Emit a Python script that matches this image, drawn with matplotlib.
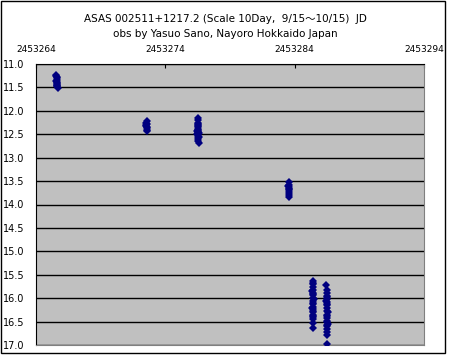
import matplotlib
matplotlib.use("Agg")
import matplotlib.pyplot as plt
from matplotlib.patches import Rectangle

plt.rcParams['font.family'] = ['DejaVu Sans', 'Noto Sans CJK JP']

title1 = "ASAS 002511+1217.2 (Scale 10Day,  9/15～10/15)  JD"
title2 = "obs by Yasuo Sano, Nayoro Hokkaido Japan"

x_ticks = [2453264, 2453274, 2453284, 2453294]
y_ticks = [11.0, 11.5, 12.0, 12.5, 13.0, 13.5, 14.0, 14.5, 15.0, 15.5, 16.0, 16.5, 17.0]

# night 1
jd1 = [2453265.57, 2453265.58, 2453265.59, 2453265.60, 2453265.61, 2453265.62,
       2453265.63, 2453265.64, 2453265.65, 2453265.66, 2453265.67, 2453265.55, 2453265.66]
mag1 = [11.26, 11.23, 11.30, 11.35, 11.28, 11.40, 11.44, 11.38, 11.48, 11.46, 11.51,
        11.36, 11.42]
# night 2
jd2 = [2453272.52, 2453272.54, 2453272.55, 2453272.56, 2453272.57, 2453272.58, 2453272.60,
       2453272.51, 2453272.61]
mag2 = [12.25, 12.30, 12.22, 12.36, 12.28, 12.40, 12.43, 12.33, 12.35]
# night 3
jd3 = [2453276.50, 2453276.51, 2453276.52, 2453276.52, 2453276.53, 2453276.53, 2453276.54,
       2453276.54, 2453276.55, 2453276.55, 2453276.56, 2453276.56, 2453276.57, 2453276.58,
       2453276.52, 2453276.53, 2453276.54, 2453276.55, 2453276.47, 2453276.46, 2453276.60]
mag3 = [12.15, 12.20, 12.26, 12.31, 12.35, 12.40, 12.44, 12.48, 12.52, 12.56, 12.60, 12.64,
        12.68, 12.55, 12.38, 12.29, 12.46, 12.33, 12.42, 12.50, 12.47]
# night 4
jd4 = [2453283.53, 2453283.54, 2453283.55, 2453283.56, 2453283.57, 2453283.58, 2453283.59,
       2453283.60, 2453283.52, 2453283.53]
mag4 = [13.52, 13.58, 13.62, 13.67, 13.72, 13.76, 13.80, 13.84, 13.60, 13.66]
# night 5
jd5 = [2453285.38, 2453285.39, 2453285.40, 2453285.40, 2453285.41, 2453285.41, 2453285.42,
       2453285.42, 2453285.43, 2453285.43, 2453285.44, 2453285.39, 2453285.40, 2453285.41,
       2453285.42, 2453285.43, 2453285.38, 2453285.39, 2453285.41, 2453285.42, 2453285.40,
       2453285.36, 2453285.46, 2453285.37, 2453285.45]
mag5 = [15.64, 15.70, 15.76, 15.82, 15.88, 15.94, 16.00, 16.06, 16.12, 16.18, 16.24,
        16.30, 16.35, 16.40, 16.45, 16.28, 15.92, 16.10, 15.68, 16.52, 16.63,
        15.85, 16.02, 16.20, 16.38]
# night 6
jd6 = [2453286.46, 2453286.48, 2453286.49, 2453286.49, 2453286.50, 2453286.50, 2453286.51,
       2453286.51, 2453286.52, 2453286.52, 2453286.53, 2453286.53, 2453286.54, 2453286.48,
       2453286.49, 2453286.50, 2453286.51, 2453286.52, 2453286.53, 2453286.50, 2453286.51,
       2453286.52, 2453286.45, 2453286.56, 2453286.47]
mag6 = [15.72, 15.82, 15.88, 15.95, 16.02, 16.08, 16.15, 16.22, 16.28, 16.35, 16.42,
        16.48, 16.55, 16.60, 16.66, 16.72, 16.78, 16.12, 15.98, 16.38, 16.50, 16.97,
        16.05, 16.30, 16.58]

fig = plt.figure(figsize=(4.5, 3.57), dpi=100)
fig.patches.append(Rectangle((0.003, 0.012), 0.985, 0.984, transform=fig.transFigure,
                             fill=False, edgecolor='black', linewidth=1.0))

ax = fig.add_axes([36 / 450, 12 / 357, 388 / 450, 281 / 357])
ax.set_facecolor('#C0C0C0')

for jd, mag in [(jd1, mag1), (jd2, mag2), (jd3, mag3), (jd4, mag4), (jd5, mag5), (jd6, mag6)]:
    ax.plot(jd, mag, linestyle='none', marker='D', markersize=4.2,
            color='#000080', markeredgewidth=0, zorder=3)

ax.set_xlim(2453264, 2453294)
ax.set_ylim(17.0, 11.0)

ax.set_yticks(y_ticks)
ax.set_yticklabels(["%.1f" % v for v in y_ticks], fontsize=7)
for lab in ax.get_yticklabels():
    lab.set_horizontalalignment('left')
ax.tick_params(axis='y', length=0, pad=24)
ax.yaxis.grid(True, color='black', linewidth=1.0)
ax.set_axisbelow(True)

ax.xaxis.tick_top()
ax.set_xticks(x_ticks)
ax.set_xticklabels([str(v) for v in x_ticks], fontsize=6.5)
ax.tick_params(axis='x', direction='in', length=3, pad=7, color='black')

ax.spines['top'].set_color('black')
ax.spines['left'].set_color('black')
ax.spines['right'].set_color('#808080')
ax.spines['bottom'].set_color('#808080')

fig.text(0.5, 0.948, title1, ha='center', va='center', fontsize=7.5)
fig.text(0.5, 0.905, title2, ha='center', va='center', fontsize=7.5)

fig.savefig("out.png", dpi=100)
